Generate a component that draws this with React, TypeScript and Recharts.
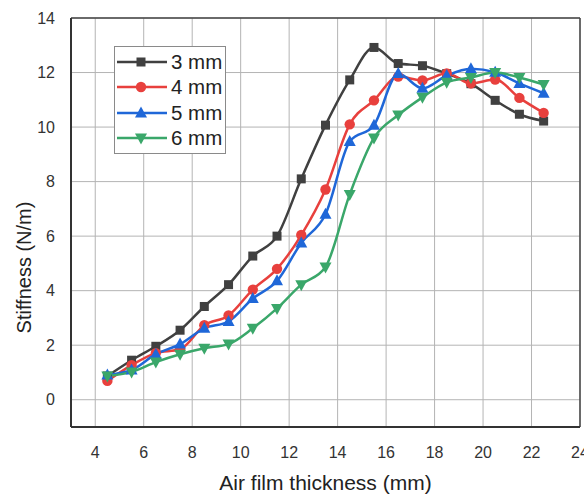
import React from 'react';
import { LineChart, Line, XAxis, YAxis, CartesianGrid, Legend, ReferenceLine, Label } from 'recharts';

const thickness = [4.5, 5.5, 6.5, 7.5, 8.5, 9.5, 10.5, 11.5, 12.5, 13.5, 14.5, 15.5, 16.5, 17.5, 18.5, 19.5, 20.5, 21.5, 22.5];
const s3mm = [0.87, 1.45, 1.96, 2.55, 3.42, 4.22, 5.27, 6.0, 8.1, 10.07, 11.73, 12.92, 12.33, 12.25, 11.96, 11.59, 10.98, 10.47, 10.22];
const s4mm = [0.69, 1.27, 1.71, 1.85, 2.73, 3.09, 4.04, 4.8, 6.04, 7.71, 10.1, 10.98, 11.85, 11.71, 11.97, 11.6, 11.74, 11.07, 10.52];
const s5mm = [0.91, 1.09, 1.67, 2.04, 2.62, 2.87, 3.71, 4.36, 5.75, 6.8, 9.47, 10.07, 11.96, 11.42, 11.89, 12.14, 12.01, 11.6, 11.24];
const s6mm = [0.87, 1.02, 1.38, 1.67, 1.89, 2.04, 2.62, 3.35, 4.22, 4.87, 7.53, 9.6, 10.44, 11.09, 11.64, 11.82, 12.0, 11.82, 11.56];

const xTicks = [4, 6, 8, 10, 12, 14, 16, 18, 20, 22, 24];
const yTicks = [0, 2, 4, 6, 8, 10, 12, 14];

const seriesNames = ['3 mm', '4 mm', '5 mm', '6 mm'];
const seriesKeys = ['s3', 's4', 's5', 's6'];
const seriesColors = ['#404040', '#e8403d', '#1f67d8', '#3aa76a'];
const seriesShapes = ['square', 'circle', 'triangle', 'down'];

const data = thickness.map((x, i) => ({ x, s3: s3mm[i], s4: s4mm[i], s5: s5mm[i], s6: s6mm[i] }));

const FONT = "Arial, 'Liberation Sans', sans-serif";

function Marker({ shape, cx, cy, color }: { shape: string; cx: number; cy: number; color: string }) {
  if (shape === 'square') return <rect x={cx - 4.5} y={cy - 4.5} width={9} height={9} fill={color} />;
  if (shape === 'circle') return <circle cx={cx} cy={cy} r={5.2} fill={color} />;
  if (shape === 'triangle')
    return <polygon points={`${cx},${cy - 6.5} ${cx - 6},${cy + 4.5} ${cx + 6},${cy + 4.5}`} fill={color} />;
  return <polygon points={`${cx},${cy + 6.5} ${cx - 6},${cy - 4.5} ${cx + 6},${cy - 4.5}`} fill={color} />;
}

const makeDot = (shape: string, color: string) => (props: any) => {
  const { cx, cy, index } = props;
  if (cx == null || cy == null) return <g key={index} />;
  return <Marker key={index} shape={shape} cx={cx} cy={cy} color={color} />;
};

function LegendBox() {
  return (
    <div
      style={{
        border: '1.5px solid #8a8a8a',
        background: '#fff',
        width: 112,
        padding: '2px 0',
        fontFamily: FONT,
        fontSize: 20.5,
        color: '#222',
        boxSizing: 'border-box',
      }}
    >
      {seriesNames.map((n, i) => (
        <div key={n} style={{ display: 'flex', alignItems: 'center', height: 25.5 }}>
          <svg width={56} height={20} style={{ display: 'block' }}>
            <line x1={2} y1={10} x2={52} y2={10} stroke={seriesColors[i]} strokeWidth={2.5} />
            <Marker shape={seriesShapes[i]} cx={26} cy={10} color={seriesColors[i]} />
          </svg>
          <span style={{ lineHeight: '20px' }}>{n}</span>
        </div>
      ))}
    </div>
  );
}

export default function App() {
  return (
    <div style={{ position: 'absolute', left: 0, top: 0, background: '#fff' }}>
      <LineChart width={584} height={495} data={data} margin={{ top: 18, right: 4, left: 0, bottom: 0 }}>
        <CartesianGrid stroke="#b4b4b4" strokeWidth={1} />
        <XAxis
          dataKey="x"
          type="number"
          domain={[3, 24]}
          ticks={xTicks}
          height={68}
          tickLine={false}
          tickSize={6}
          tickMargin={14}
          axisLine={{ stroke: '#333', strokeWidth: 2 }}
          tick={{ fill: '#333', fontSize: 16, fontFamily: FONT }}
          interval={0}
        >
          <Label value="Air film thickness (mm)" position="insideBottom" offset={5} style={{ fill: '#222', fontSize: 21, fontFamily: FONT }} />
        </XAxis>
        <YAxis
          type="number"
          domain={[-1, 14]}
          ticks={yTicks}
          width={71}
          tickLine={false}
          tickSize={6}
          tickMargin={10}
          axisLine={{ stroke: '#333', strokeWidth: 2 }}
          tick={{ fill: '#333', fontSize: 16, fontFamily: FONT }}
          interval={0}
        >
          <Label
            content={(props: any) => {
              const vb = props.viewBox || { x: 0, y: 18, width: 71, height: 409 };
              const x = vb.x + 24;
              const y = vb.y + vb.height / 2 + 45;
              return (
                <text
                  x={x}
                  y={y}
                  transform={`rotate(-90 ${x} ${y})`}
                  textAnchor="middle"
                  dominantBaseline="central"
                  style={{ fill: '#222', fontSize: 20, fontFamily: FONT }}
                >
                  Stiffness (N/m)
                </text>
              );
            }}
          />
        </YAxis>
        <ReferenceLine y={14} stroke="#444" strokeWidth={1.5} />
        <ReferenceLine x={24} stroke="#444" strokeWidth={1.5} />
        <Legend
          layout="horizontal"
          verticalAlign="middle"
          align="center"
          wrapperStyle={{ left: 114, top: 46, width: 'auto', height: 'auto' }}
          content={() => <LegendBox />}
        />
        {seriesKeys.map((k, i) => (
          <Line
            key={k}
            dataKey={k}
            name={seriesNames[i]}
            type="monotone"
            stroke={seriesColors[i]}
            strokeWidth={2.5}
            dot={makeDot(seriesShapes[i], seriesColors[i])}
            activeDot={false}
            isAnimationActive={false}
          />
        ))}
      </LineChart>
    </div>
  );
}
